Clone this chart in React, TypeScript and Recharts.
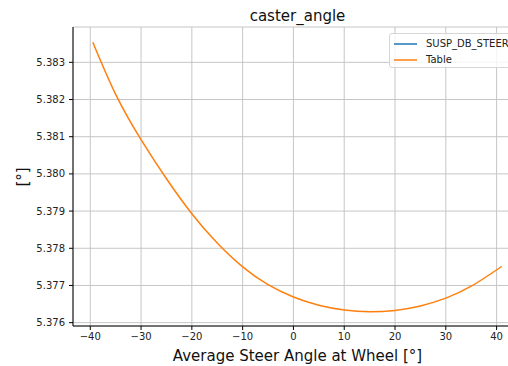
import React from "react";
import { LineChart, Line, XAxis, YAxis, CartesianGrid } from "recharts";

// steer angle at wheel [deg]
const angles = [-39.5, -35, -30, -25, -20, -15, -10, -5, 0, 5, 10, 15, 20, 25, 30, 35, 41];
// caster angle [deg], lookup table
const tableValues = [
  5.38354, 5.38214, 5.38092, 5.37987, 5.37893, 5.37814, 5.3775, 5.37702, 5.37669,
  5.37647, 5.37634, 5.37629, 5.37633, 5.37645, 5.37666, 5.37698, 5.37751,
];

const xTicks = [-40, -30, -20, -10, 0, 10, 20, 30, 40];
const yTicks = [5.376, 5.377, 5.378, 5.379, 5.38, 5.381, 5.382, 5.383];

const X_DOMAIN: [number, number] = [-43.4, 45];
const Y_DOMAIN: [number, number] = [5.37591, 5.38395];

const data = angles.map((angle, i) => ({ angle, table: tableValues[i] }));

const FONT = "'DejaVu Sans', sans-serif";
const minus = (v: number) => String(v).replace("-", "\u2212");

const LegendRow = ({ color, label, top }: { color: string; label: string; top: number }) => (
  <div style={{ position: "absolute", left: 0, top, height: 14, width: 200 }}>
    <svg width={30} height={14} style={{ position: "absolute", left: 0, top: 0 }}>
      <line x1={4} x2={27} y1={7} y2={7} stroke={color} strokeWidth={1.5} />
    </svg>
    <div style={{ position: "absolute", left: 36, top: 0, fontSize: 10, lineHeight: "14px", color: "#222", whiteSpace: "nowrap" }}>
      {label}
    </div>
  </div>
);

export default function App() {
  return (
    <div
      style={{
        position: "fixed",
        left: 0,
        top: 0,
        width: 508,
        height: 366,
        overflow: "hidden",
        background: "#fff",
        fontFamily: FONT,
      }}
    >
      <LineChart width={530} height={366} data={data} margin={{ top: 27, right: 8, left: 0, bottom: 0 }}>
        <CartesianGrid stroke="#c6c6c6" strokeWidth={1} />
        <XAxis
          dataKey="angle"
          type="number"
          domain={X_DOMAIN}
          ticks={xTicks}
          allowDataOverflow
          tickFormatter={minus}
          height={40}
          tickSize={4}
          tickMargin={3}
          axisLine={{ stroke: "#000" }}
          tickLine={{ stroke: "#000" }}
          tick={{ fill: "#222", fontSize: 10, fontFamily: FONT }}
        />
        <XAxis
          xAxisId="top"
          orientation="top"
          dataKey="angle"
          type="number"
          domain={X_DOMAIN}
          allowDataOverflow
          height={0}
          tick={false}
          tickLine={false}
          axisLine={{ stroke: "#000" }}
        />
        <YAxis
          type="number"
          domain={Y_DOMAIN}
          ticks={yTicks}
          allowDataOverflow
          width={73}
          tickFormatter={(v: number) => v.toFixed(3)}
          tickSize={4}
          tickMargin={4}
          axisLine={{ stroke: "#000" }}
          tickLine={{ stroke: "#000" }}
          tick={{ fill: "#222", fontSize: 10, fontFamily: FONT }}
        />
        <Line type="natural" dataKey="table" stroke="#ff7f0e" strokeWidth={1.5} dot={false} isAnimationActive={false} />
      </LineChart>

      {/* title */}
      <div style={{ position: "absolute", left: 197.5, width: 200, top: 7, textAlign: "center", fontSize: 15, color: "#111" }}>
        caster_angle
      </div>
      {/* x label */}
      <div style={{ position: "absolute", left: 97.5, width: 400, top: 347, textAlign: "center", fontSize: 15, color: "#111" }}>
        Average Steer Angle at Wheel [°]
      </div>
      {/* y label */}
      <div
        style={{
          position: "absolute",
          left: 23,
          top: 176.5,
          fontSize: 15,
          color: "#111",
          whiteSpace: "nowrap",
          transform: "translate(-50%, -50%) rotate(-90deg)",
        }}
      >
        [°]
      </div>
      {/* legend */}
      <div
        style={{
          position: "absolute",
          left: 389,
          top: 33,
          width: 150,
          height: 35,
          border: "1px solid #d6d6d6",
          borderRadius: 3,
          background: "rgba(255,255,255,0.8)",
          boxSizing: "border-box",
        }}
      >
        <LegendRow color="#1f77b4" label="SUSP_DB_STEER" top={2.5} />
        <LegendRow color="#ff7f0e" label="Table" top={18.5} />
      </div>
    </div>
  );
}
